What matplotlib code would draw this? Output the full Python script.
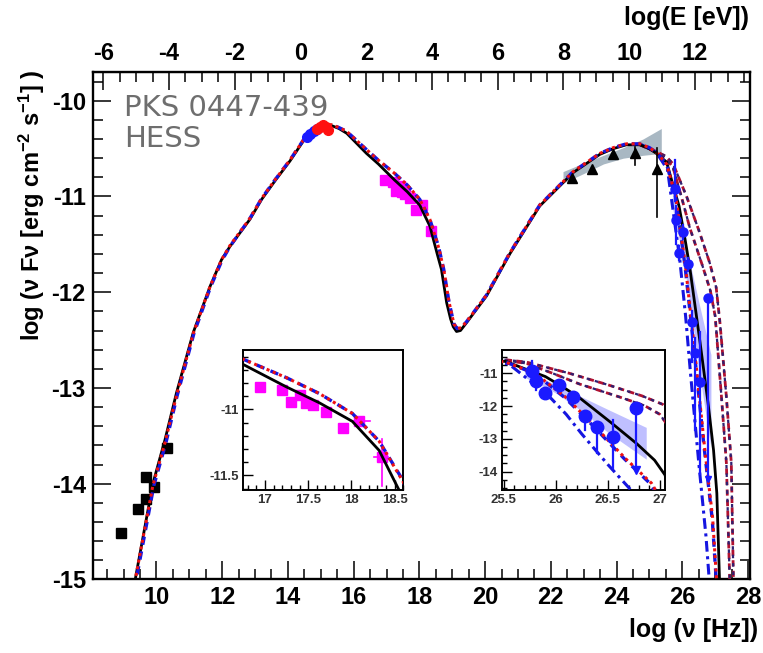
#!/usr/bin/env python3
"""SED of PKS 0447-439 with model curves and two zoom insets"""

import matplotlib
matplotlib.use('Agg')
import matplotlib.pyplot as plt
from matplotlib.ticker import MultipleLocator, FixedLocator, FormatStrFormatter

# ---- values: log10(nu [Hz]) vs log10(nuFnu [erg cm-2 s-1]) ----

# radio (black squares)
radio_x = [8.92, 9.43, 9.68, 9.68, 9.92, 10.31]
radio_y = [-14.51, -14.26, -14.16, -13.93, -14.03, -13.63]

# optical / UV
opt_blue_x = [14.58, 14.68, 14.80, 14.88]
opt_blue_y = [-10.38, -10.35, -10.32, -10.30]
opt_red_x = [14.88, 14.98, 15.08, 15.16, 15.22]
opt_red_y = [-10.29, -10.27, -10.25, -10.27, -10.31]

# X-ray (magenta squares)
xray_x = [16.94, 17.20, 17.30, 17.40, 17.47, 17.56, 17.71, 17.90, 18.09, 18.35]
xray_y = [-10.83, -10.85, -10.94, -10.89, -10.95, -10.97, -11.02, -11.14, -11.09, -11.36]
xray_x_lo = [16.94, 17.20, 17.30, 17.40, 17.47, 17.56, 17.71, 17.90, 17.99, 18.26]
xray_x_hi = [16.94, 17.20, 17.30, 17.40, 17.47, 17.56, 17.71, 17.90, 18.22, 18.42]
xray_y_lo = [-10.83, -10.85, -10.94, -10.89, -10.95, -10.97, -11.02, -11.14, -11.09, -11.58]
xray_y_hi = [-10.83, -10.85, -10.94, -10.89, -10.95, -10.97, -11.02, -11.14, -11.09, -11.22]

# Fermi (black triangles) and butterfly
fermi_x = [22.63, 23.25, 23.89, 24.55, 25.23]
fermi_y = [-10.81, -10.71, -10.56, -10.55, -10.71]
fermi_lo = [-10.81, -10.71, -10.56, -10.67, -11.21]
fermi_hi = [-10.81, -10.71, -10.56, -10.48, -10.49]
fbfly_x = [22.37, 23.00, 23.60, 24.20, 24.80, 25.36]
fbfly_hi = [-10.74, -10.65, -10.57, -10.49, -10.40, -10.29]
fbfly_lo = [-10.86, -10.76, -10.66, -10.60, -10.57, -10.55]

# HESS (blue circles), upper limit and butterfly
hess_x = [25.77, 25.81, 25.90, 26.03, 26.17, 26.28, 26.40, 26.55, 26.77]
hess_y = [-10.92, -11.25, -11.59, -11.37, -11.71, -12.31, -12.63, -12.94, -12.06]
hess_hi = [-10.62, -11.10, -11.52, -11.30, -11.64, -12.20, -12.48, -12.42, -12.06]
hess_lo = [-11.05, -11.50, -11.66, -11.44, -11.78, -12.73, -13.44, -13.90, -13.95]
hess_ul_x = [26.77]
hess_ul_y = [-13.95]
hband_x = [25.70, 26.00, 26.25, 26.50, 26.87]
hband_hi = [-10.90, -11.35, -11.72, -12.10, -12.65]
hband_lo = [-11.12, -11.60, -12.15, -12.80, -13.62]

# model curves
black_x = [9.30, 9.89, 10.26, 10.61, 11.12, 11.63, 11.98, 12.24, 12.84, 13.20, 13.62,
           14.06, 14.47, 14.87, 15.10, 15.33, 15.55, 15.79, 16.39, 16.75, 17.25, 17.63,
           18.01, 18.32, 18.55, 18.67, 18.83, 18.95, 19.03, 19.13, 19.25, 19.43, 20.04,
           20.75, 21.66, 22.68, 23.49, 23.90, 24.30, 24.71, 25.00, 25.21, 25.52, 25.70,
           25.90, 26.07, 26.23, 26.53, 26.78, 26.95, 27.05, 27.14]
black_y = [-15.10, -14.00, -13.54, -13.05, -12.42, -11.94, -11.66, -11.52, -11.24, -11.03, -10.83,
           -10.63, -10.42, -10.30, -10.265, -10.26, -10.29, -10.34, -10.55, -10.66, -10.83, -10.95,
           -11.09, -11.31, -11.61, -11.76, -12.11, -12.28, -12.36, -12.41, -12.40, -12.32, -12.04,
           -11.60, -11.10, -10.75, -10.56, -10.50, -10.46, -10.46, -10.50, -10.55, -10.64, -10.86,
           -11.10, -11.42, -11.75, -12.50, -13.15, -13.65, -14.10, -15.10]

red_x = [9.30, 9.89, 10.26, 10.61, 11.12, 11.63, 11.98, 12.24, 12.84, 13.20, 13.62,
         14.06, 14.47, 14.87, 15.10, 15.33, 15.55, 15.79, 16.39, 16.75, 17.25, 17.63,
         18.01, 18.32, 18.60, 18.75, 18.90, 19.05, 19.15, 19.27, 19.43, 20.04,
         20.75, 21.66, 22.68, 23.49, 23.90, 24.30, 24.71, 25.00, 25.21, 25.52, 25.80,
         26.10, 26.38, 26.67, 26.92, 27.06]
red_y = [-15.10, -14.02, -13.57, -13.08, -12.43, -11.94, -11.66, -11.51, -11.23, -11.02, -10.82,
         -10.62, -10.41, -10.29, -10.255, -10.25, -10.28, -10.32, -10.51, -10.62, -10.76, -10.88,
         -11.03, -11.24, -11.55, -11.78, -12.10, -12.33, -12.38, -12.37, -12.31, -12.03,
         -11.59, -11.09, -10.74, -10.55, -10.49, -10.45, -10.45, -10.49, -10.54, -10.66, -11.00,
         -11.74, -12.63, -13.60, -14.35, -15.10]

blue_x = [9.33, 9.92, 10.29, 10.63, 11.14, 11.64, 11.99, 12.24, 12.84, 13.20, 13.62,
          14.06, 14.47, 14.87, 15.10, 15.33, 15.55, 15.79, 16.39, 16.75, 17.25, 17.63,
          18.01, 18.32, 18.58, 18.74, 18.90, 19.05, 19.15, 19.27, 19.43, 20.04,
          20.75, 21.66, 22.68, 23.49, 23.90, 24.30, 24.71, 25.00, 25.21, 25.52, 25.80,
          26.09, 26.37, 26.66, 26.91, 27.05]
blue_y = [-15.10, -14.02, -13.57, -13.08, -12.43, -11.95, -11.67, -11.52, -11.23, -11.02, -10.82,
          -10.62, -10.41, -10.29, -10.255, -10.25, -10.28, -10.32, -10.51, -10.62, -10.76, -10.88,
          -11.03, -11.24, -11.52, -11.76, -12.10, -12.33, -12.38, -12.37, -12.31, -12.03,
          -11.59, -11.09, -10.74, -10.55, -10.49, -10.45, -10.45, -10.49, -10.54, -10.66, -11.01,
          -11.75, -12.64, -13.61, -14.37, -15.10]

dd_x = [24.71, 25.21, 25.55, 25.72, 25.92, 26.10, 26.25, 26.50, 26.72, 26.84]
dd_y = [-10.45, -10.54, -10.72, -11.15, -11.65, -12.25, -12.85, -13.78, -14.55, -15.10]

ua1_x = [24.71, 25.21, 25.50, 25.72, 26.13, 26.50, 26.83, 27.03, 27.14, 27.34, 27.49, 27.56]
ua1_y = [-10.46, -10.53, -10.58, -10.66, -11.00, -11.35, -11.69, -11.95, -12.30, -13.09, -13.78, -15.10]
ua2_x = [24.71, 25.21, 25.50, 25.72, 25.97, 26.23, 26.61, 26.85, 27.00, 27.19, 27.34, 27.45]
ua2_y = [-10.46, -10.54, -10.60, -10.70, -11.00, -11.33, -11.72, -11.98, -12.25, -13.09, -13.78, -15.10]

E_OFFSET = 14.383  # log10(h / eV s)
top_ticks = [-6, -4, -2, 0, 2, 4, 6, 8, 10, 12]


def draw_models(ax, lw=2.0):
    for ux, uy in ((ua1_x, ua1_y), (ua2_x, ua2_y)):
        ax.plot(ux, uy, color='#b01030', lw=lw, ls=(0, (2.2, 1.6)), zorder=3)
        ax.plot(ux, uy, color='#302070', lw=lw * 0.8, ls=(0.6, (1.6, 2.2)), zorder=3)
    ax.plot(dd_x, dd_y, color='#1515e0', lw=lw * 1.1, ls=(0, (3.5, 1.5, 1.0, 1.5)), zorder=4)
    ax.plot(black_x, black_y, color='black', lw=lw, zorder=5)
    ax.plot(blue_x, blue_y, color='#1515e0', lw=lw * 1.2, ls=(0, (2.5, 2.0)), zorder=6)
    ax.plot(red_x, red_y, color='#ee1111', lw=lw * 1.1, ls=(0, (1.0, 1.2)), zorder=7)


def draw_hess(ax, ms):
    ax.fill_between(hband_x, hband_lo, hband_hi, color='#8c8cff', alpha=0.55, lw=0, zorder=2)
    for x, lo, hi in zip(hess_x, hess_lo, hess_hi):
        ax.plot([x, x], [lo, hi], color='#1a1aff', lw=1.6, zorder=8)
    ax.plot(hess_x, hess_y, 'o', color='#1a1aff', ms=ms, zorder=8)
    ax.plot(hess_ul_x, hess_ul_y, 'v', color='#1a1aff', ms=ms * 0.7, zorder=8)


plt.rcParams['axes.unicode_minus'] = False
plt.rcParams['mathtext.fontset'] = 'custom'
plt.rcParams['mathtext.rm'] = 'Liberation Sans:bold'
plt.rcParams['mathtext.bf'] = 'Liberation Sans:bold'
plt.rcParams['mathtext.default'] = 'rm'

fig = plt.figure(figsize=(7.63, 6.53), dpi=100)
ax = fig.add_axes([0.1215, 0.1126, 0.8615, 0.7771])

# data
ax.fill_between(fbfly_x, fbfly_lo, fbfly_hi, color='#a9b8c3', lw=0, zorder=1)
ax.plot(radio_x, radio_y, 's', color='black', ms=6.5, zorder=2)
ax.plot(xray_x, xray_y, 's', color='#ff00ff', ms=6.5, zorder=2)
ax.plot(opt_blue_x, opt_blue_y, 'o', color='#1a1aff', ms=7, zorder=8)
ax.plot(opt_red_x, opt_red_y, 'o', color='#ff1010', ms=7, zorder=8)
draw_models(ax, lw=2.0)
for x, lo, hi in zip(fermi_x, fermi_lo, fermi_hi):
    ax.plot([x, x], [lo, hi], color='black', lw=1.2, zorder=9)
ax.plot(fermi_x, fermi_y, '^', color='black', ms=6.5, zorder=9)
draw_hess(ax, ms=6.5)

ax.set_xlim(8.06, 28.06)
ax.set_ylim(-15, -9.7)
ax.xaxis.set_major_locator(MultipleLocator(2))
ax.xaxis.set_minor_locator(MultipleLocator(0.5))
ax.yaxis.set_major_locator(MultipleLocator(1))
ax.yaxis.set_minor_locator(MultipleLocator(0.2))
ax.xaxis.set_major_formatter(FormatStrFormatter('%d'))
ax.yaxis.set_major_formatter(FormatStrFormatter('%d'))
ax.tick_params(which='both', direction='in', top=False, right=True, width=1.1)
ax.tick_params(which='major', length=13, pad=5)
ax.tick_params(which='minor', length=7)
for lab in ax.get_xticklabels() + ax.get_yticklabels():
    lab.set_fontfamily('Liberation Sans')
    lab.set_fontweight('bold')
    lab.set_fontsize(17)
for sp in ax.spines.values():
    sp.set_linewidth(1.7)

top = ax.secondary_xaxis('top', functions=(lambda v: v - E_OFFSET, lambda e: e + E_OFFSET))
top.xaxis.set_major_locator(FixedLocator(top_ticks))
top.xaxis.set_minor_locator(MultipleLocator(0.5))
top.xaxis.set_major_formatter(FormatStrFormatter('%d'))
top.tick_params(which='both', direction='in', width=1.1)
top.tick_params(which='major', length=13, pad=5)
top.tick_params(which='minor', length=7)
for lab in top.get_xticklabels():
    lab.set_fontfamily('Liberation Sans')
    lab.set_fontweight('bold')
    lab.set_fontsize(17)

fig.text(0.163, 0.856, 'PKS 0447-439\nHESS', color='#6e6e6e', fontsize=21,
         family='DejaVu Sans', va='top', ha='left', linespacing=1.15)

fig.text(0.994, 0.035, 'log (ν [Hz])', ha='right', va='center', fontsize=18,
         family='Liberation Sans', weight='bold')
fig.text(0.982, 0.972, 'log(E [eV])', ha='right', va='center', fontsize=18,
         family='Liberation Sans', weight='bold')
fig.text(0.042, 0.893, r'log (ν Fν [erg cm$^{-2}$ s$^{-1}$] )', rotation=90, ha='center',
         va='top', fontsize=17, family='Liberation Sans', weight='bold')

# ---- inset 1: X-ray ----
ax1 = fig.add_axes([0.3189, 0.2496, 0.2097, 0.2144])
ax1.set_facecolor('white')
for xl, xh, yv in zip(xray_x_lo, xray_x_hi, xray_y):
    ax1.plot([xl, xh], [yv, yv], color='#ff00ff', lw=1.2, zorder=2)
for xv, yl, yh in zip(xray_x, xray_y_lo, xray_y_hi):
    ax1.plot([xv, xv], [yl, yh], color='#ff00ff', lw=1.2, zorder=2)
ax1.plot(xray_x, xray_y, 's', color='#ff00ff', ms=7.5, zorder=2)
draw_models(ax1, lw=2.0)
ax1.set_xlim(16.75, 18.6)
ax1.set_ylim(-11.61, -10.55)
ax1.xaxis.set_major_locator(MultipleLocator(0.5))
ax1.xaxis.set_minor_locator(MultipleLocator(0.1))
ax1.yaxis.set_major_locator(MultipleLocator(0.5))
ax1.yaxis.set_minor_locator(MultipleLocator(0.1))

# ---- inset 2: VHE ----
ax2 = fig.add_axes([0.6575, 0.2496, 0.2140, 0.2144])
ax2.set_facecolor('white')
draw_models(ax2, lw=2.0)
draw_hess(ax2, ms=9)
ax2.set_xlim(25.48, 27.05)
ax2.set_ylim(-14.56, -10.29)
ax2.xaxis.set_major_locator(MultipleLocator(0.5))
ax2.xaxis.set_minor_locator(MultipleLocator(0.1))
ax2.yaxis.set_major_locator(MultipleLocator(1))
ax2.yaxis.set_minor_locator(MultipleLocator(0.25))

for a in (ax1, ax2):
    a.xaxis.set_major_formatter(FormatStrFormatter('%g'))
    a.yaxis.set_major_formatter(FormatStrFormatter('%g'))
    a.tick_params(which='both', direction='in', width=1.0)
    a.tick_params(which='major', length=7, pad=3)
    a.tick_params(which='minor', length=3.5)
    for lab in a.get_xticklabels() + a.get_yticklabels():
        lab.set_fontfamily('Liberation Sans')
        lab.set_fontweight('bold')
        lab.set_fontsize(9.5)
        lab.set_color('#333333')
    for sp in a.spines.values():
        sp.set_linewidth(1.4)

fig.savefig('out.png', dpi=100)
